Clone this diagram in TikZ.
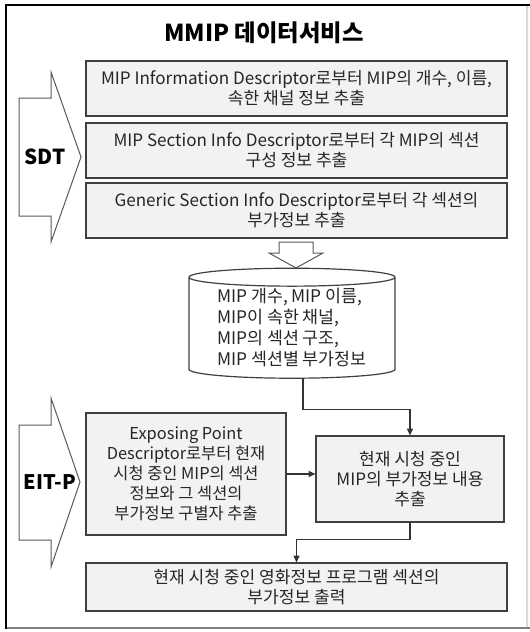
\documentclass[tikz,border=0pt]{standalone}
\usepackage{fontspec}
\setmainfont{Noto Sans CJK KR}
\usetikzlibrary{shapes.geometric, arrows.meta}

\begin{document}
\begin{tikzpicture}[x=0.75pt, y=-0.75pt,
  every node/.style={font=\fontsize{12.8}{15}\selectfont, text=black!85},
  stepbox/.style={draw=black!75, fill=black!5, line width=0.9pt, align=center, inner sep=0pt},
  hollow/.style={draw=black!65, fill=white, line width=0.75pt, line join=miter},
  conn/.style={draw=black!80, line width=0.8pt},
  arr/.style={conn, -{Triangle[length=5pt, width=4.5pt]}}]
  \useasboundingbox (0,0) rectangle (530,632);
  \draw[black!15, line width=0.8pt] (527,5) -- (527,628);
  \draw[black!50, line width=1.5pt] (6,628) -- (530,628);
  \draw[line width=2pt] (6,629) -- (6,5) -- (530,5);
  \node[font=\fontsize{17.5}{20}\selectfont\bfseries, text=black] (ttl) at (264,33) {MMIP 데이터서비스};
  \draw[hollow] (19,98) -- (51,98) -- (51,72) -- (81,157) -- (51,242) -- (51,216) -- (19,216) -- cycle;
  \node[font=\fontsize{15.5}{16}\selectfont\bfseries, text=black] (sdt) at (45,157) {SDT};
  \draw[hollow] (19,425) -- (51,425) -- (51,398) -- (80,482) -- (51,567) -- (51,540) -- (19,540) -- cycle;
  \node[font=\fontsize{15}{16}\selectfont\bfseries, text=black] (eit) at (50,482) {EIT-P};
  \node[stepbox, minimum width=315.75pt, minimum height=41.25pt] (b1) at (296.5,88.5) {MIP Information Descriptor로부터 MIP의 개수, 이름,\\속한 채널 정보 추출};
  \node[stepbox, minimum width=315.75pt, minimum height=41.25pt] (b2) at (296.5,150.5) {MIP Section Info Descriptor로부터 각 MIP의 섹션\\구성 정보 추출};
  \node[stepbox, minimum width=315.75pt, minimum height=41.25pt] (b3) at (296.5,210.5) {Generic Section Info Descriptor로부터 각 섹션의\\부가정보 추출};
  \draw[hollow] (279,242) -- (313,242) -- (313,253) -- (323,253) -- (296,268) -- (269,253) -- (279,253) -- cycle;
  \node[cylinder, shape border rotate=90, aspect=0.12, draw=black!75, fill=white, line width=0.9pt,
    minimum width=154.5pt, minimum height=82.5pt, inner sep=0pt, align=left,
    font=\fontsize{13}{15.75}\selectfont] (db) at (292,328) {MIP 개수, MIP 이름,\\MIP이 속한 채널,\\MIP의 섹션 구조,\\MIP 섹션별 부가정보};
  \node[stepbox, minimum width=150pt, minimum height=91.5pt, font=\fontsize{12.3}{15}\selectfont] (b4) at (186,474) {Exposing Point\\Descriptor로부터 현재\\시청 중인 MIP의 섹션\\정보와 그 섹션의\\부가정보 구별자 추출};
  \node[stepbox, minimum width=141pt, minimum height=64.5pt] (b5) at (410,479) {현재 시청 중인\\MIP의 부가정보 내용\\추출};
  \node[stepbox, minimum width=315.75pt, minimum height=36pt] (b6) at (296.5,587) {현재 시청 중인 영화정보 프로그램 섹션의\\부가정보 출력};
  \draw[arr] (b4.east) -- (b4.east -| b5.west);
  \draw[arr] ([xshift=8.25pt]db.south) |- ([yshift=19.5pt]b5.north) -- (b5.north);
  \draw[arr] (b5.south) |- ([yshift=17.25pt]b6.north) -- (b6.north);
\end{tikzpicture}
\end{document}
